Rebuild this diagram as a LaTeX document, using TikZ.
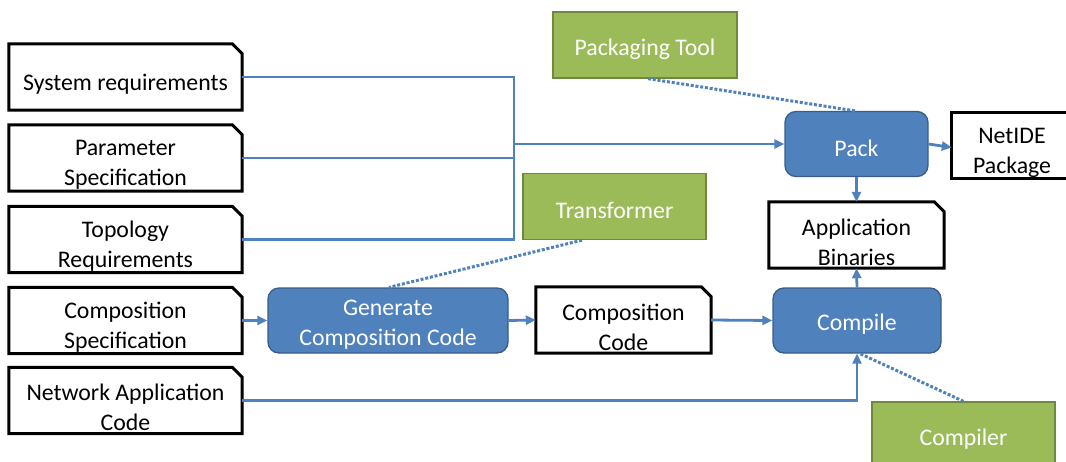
\documentclass[tikz,border=0pt]{standalone}
\usepackage{fontspec}
\setmainfont{Carlito}
\usetikzlibrary{arrows.meta}

\definecolor{flowblue}{HTML}{4F81BD}
\definecolor{flowblueedge}{HTML}{385D8A}
\definecolor{toolgreen}{HTML}{9BBB59}
\definecolor{toolgreenedge}{HTML}{71893F}

\tikzset{
  txt/.style={font=\fontsize{23.8}{30}\selectfont, align=center, inner sep=0pt},
  docnode/.style={inner sep=0pt, minimum width=#1, minimum height=66pt},
  procbox/.style={inner sep=0pt, minimum height=65pt, fill=flowblue, draw=flowblueedge,
    line width=1.3pt, rounded corners=11pt},
  toolbox/.style={inner sep=0pt, minimum height=66pt, fill=toolgreen, draw=toolgreenedge,
    line width=1.3pt},
  docline/.style={line width=3pt, line join=miter, black},
  conn/.style={line width=2.8pt, flowblue},
  arr/.style={conn, -{Triangle[length=10pt,width=9pt]}},
  dotlink/.style={line width=3pt, flowblue, dash pattern=on 3pt off 1.8pt}
}

% a document outline with the top right corner cut off
\newcommand{\docoutline}[1]{%
  \draw[docline] (#1.south west) -- (#1.north west)
    -- ([xshift=-10pt]#1.north east) -- ([yshift=-10pt]#1.north east)
    -- (#1.south east) -- cycle;}
% text set inside a box: black in documents, white in filled boxes
\newcommand{\blacktext}[2]{\node[txt, yshift=-7pt, text=black] at (#1) {#2};}
\newcommand{\whitetext}[2]{\node[txt, yshift=-4pt, text=white] at (#1) {#2};}

\begin{document}
\begin{tikzpicture}[x=1pt, y=-1pt]
  \useasboundingbox (0,0) rectangle (1066,461);
  \clip (0,0) rectangle (1066,461);

  % input documents
  \node[docnode=233pt] (sysreq)   at (125.5,77)    {};
  \node[docnode=233pt] (param)    at (125.5,158)   {};
  \node[docnode=233pt] (topo)     at (125.5,239.5) {};
  \node[docnode=233pt] (compspec) at (125.5,320.5) {};
  \node[docnode=233pt] (netapp)   at (125.5,400.5) {};
  \foreach \n in {sysreq,param,topo,compspec,netapp} {\docoutline{\n}}
  \blacktext{sysreq}{System requirements}
  \blacktext{param}{Parameter\\Specification}
  \blacktext{topo}{Topology\\Requirements}
  \blacktext{compspec}{Composition\\Specification}
  \blacktext{netapp}{Network Application\\Code}

  % intermediate and output documents
  \node[docnode=175pt] (compcode) at (623.5,320)   {};
  \node[docnode=175pt] (appbin)   at (856.5,235)   {};
  \node[docnode=120pt] (netide)   at (1012,145.5)  {};
  \foreach \n in {compcode,appbin} {\docoutline{\n}}
  \draw[docline] (netide.south west) rectangle (netide.north east);
  \blacktext{compcode}{Composition\\Code}
  \blacktext{appbin}{Application\\Binaries}
  \blacktext{netide}{NetIDE\\Package}

  % process steps
  \node[procbox, minimum width=143pt] (pack)    at (856.5,144)  {};
  \node[procbox, minimum width=168pt] (compile) at (857,320.5)  {};
  \node[procbox, minimum width=240pt] (gen)     at (388,320.5)  {};
  \whitetext{pack}{Pack}
  \whitetext{compile}{Compile}
  \whitetext{gen}{Generate\\Composition Code}

  % tools
  \node[toolbox, minimum width=184pt] (pkgtool)     at (645,45)      {};
  \node[toolbox, minimum width=183pt] (transformer) at (614.5,206.5) {};
  \node[toolbox, minimum width=183pt] (compiler)    at (963.5,435)   {};
  \whitetext{pkgtool}{Packaging Tool}
  \whitetext{transformer}{Transformer}
  \whitetext{compiler}{Compiler}

  % requirement inputs merged into the packaging step
  \coordinate (jtop) at (514,77);
  \coordinate (jbot) at (514,239.5);
  \coordinate (jmid) at (514,144);
  \draw[conn, line join=miter] (sysreq.east) -- (jtop) -- (jbot) -- (topo.east);
  \draw[conn] (param.east) -- (param.east -| jtop);
  \draw[arr] (jmid) -- (pack.west);

  % main flow
  \draw[arr] (pack.east) -- ([yshift=-2pt]netide.west);
  \draw[arr] (pack.south) -- (appbin.north);
  \draw[arr] (compspec.east) -- (gen.west);
  \draw[arr] (gen.east) -- (compcode.west);
  \draw[arr] (compcode.east) -- (compile.west);
  \draw[arr] (compile.north) -- (appbin.south);
  \draw[arr] (netapp.east) -| (compile.south);

  % tool associations
  \draw[dotlink] ([xshift=3pt]pkgtool.south) -- ([xshift=-1.5pt]pack.north);
  \draw[dotlink] ([xshift=-32.5pt]transformer.south) -- ([xshift=1pt]gen.north);
  \draw[dotlink] (compiler.north) -- ([xshift=3pt]compile.south);
\end{tikzpicture}
\end{document}
